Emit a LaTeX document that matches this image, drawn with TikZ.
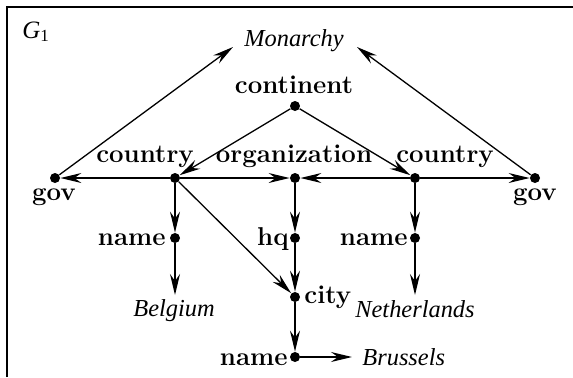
\documentclass[tikz,border=0pt]{standalone}
\usepackage{fontspec}
\newfontfamily\valfont{Liberation Serif}
\usetikzlibrary{arrows.meta}
\begin{document}
\begin{tikzpicture}[x=0.5pt,y=-0.5pt,
  dot/.style={circle,fill=black,inner sep=0pt,minimum size=5pt},
  attr/.style={font=\fontsize{12.9}{15}\selectfont\bfseries,inner sep=0pt},
  val/.style={font=\valfont\itshape\fontsize{12.2}{14}\selectfont,inner sep=0pt},
  edge/.style={line width=0.65pt,-{Stealth[length=10.5pt,width=5pt,inset=3.5pt]}},
  frame/.style={line width=1pt}]
\useasboundingbox (0,0) rectangle (573,377);
% open frame: top and left sides
\draw[frame] (6.5,377) -- (6.5,7) -- (573,7);
\node[anchor=base west,inner sep=0pt,font=\valfont\fontsize{12.5}{14}\selectfont] (g1) at (22,38)
  {\textit{G}\raisebox{-1.5pt}{\fontsize{8.5}{9}\selectfont 1}};

% graph vertices
\node[dot] (cont) at (295,106) {};
\node[dot] (ctyL) at (175,178) {};
\node[dot] (org) at (295,178) {};
\node[dot] (ctyR) at (415,178) {};
\node[dot] (govL) at (55,178) {};
\node[dot] (govR) at (535,178) {};
\node[dot] (nameL) at (175,238) {};
\node[dot] (hq) at (295,238) {};
\node[dot] (city) at (295,297) {};
\node[dot] (nameB) at (295,357) {};
\node[dot] (nameR) at (415,238) {};

% vertex labels
\node[attr,anchor=base] (tcont) at (294,93) {continent};
\node[attr,anchor=base] (tctyL) at (145,162) {country};
\node[attr,anchor=base] (torg) at (294,162) {organization};
\node[attr,anchor=base] (tctyR) at (445,162) {country};
\node[attr,anchor=base] (tgovL) at (54,200) {gov};
\node[attr,anchor=base] (tgovR) at (535,200) {gov};
\node[attr,anchor=base east] (tnameL) at (166,245) {name};
\node[attr,anchor=base east] (thq) at (289,245) {hq};
\node[attr,anchor=base west] (tcity) at (304,303) {city};
\node[attr,anchor=base east] (tnameB) at (288,365) {name};
\node[attr,anchor=base east] (tnameR) at (408,245) {name};

% values
\node[val,anchor=base] (mon) at (294,46) {Monarchy};
\node[val,anchor=base] (bel) at (174,316) {Belgium};
\node[val,anchor=base] (neth) at (415,317) {Netherlands};
\node[val,anchor=base west] (bru) at (362,365) {Brussels};

% arrow ends next to the values
\coordinate (monL) at (233,47);
\coordinate (monR) at (357,47);
\coordinate (belT) at (175,295);
\coordinate (nethT) at (415,295);
\coordinate (bruT) at (352,357);

% edges
\draw[edge] (govL) -- (monL);
\draw[edge] (govR) -- (monR);
\draw[edge] (cont) -- (ctyL);
\draw[edge] (cont) -- (ctyR);
\draw[edge] (ctyL) -- (govL);
\draw[edge] (ctyL) -- (org);
\draw[edge] (ctyR) -- (org);
\draw[edge] (ctyR) -- (govR);
\draw[edge] (ctyL) -- (nameL);
\draw[edge] (nameL) -- (belT);
\draw[edge] (ctyL) -- (city);
\draw[edge] (org) -- (hq);
\draw[edge] (hq) -- (city);
\draw[edge] (city) -- (nameB);
\draw[edge] (nameB) -- (bruT);
\draw[edge] (ctyR) -- (nameR);
\draw[edge] (nameR) -- (nethT);
\end{tikzpicture}
\end{document}
